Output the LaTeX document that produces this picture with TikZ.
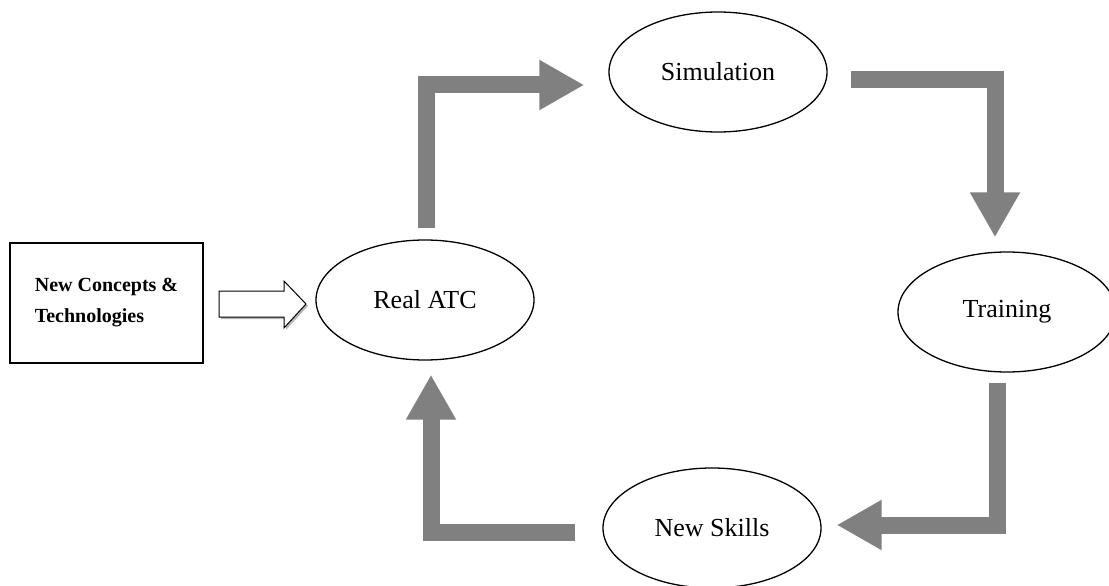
\documentclass[tikz,border=0pt]{standalone}
\usepackage{fontspec}
\setmainfont{Liberation Serif}
\usetikzlibrary{arrows.meta,shapes.geometric,calc}
\definecolor{flowgray}{HTML}{808080}
\begin{document}
\begin{tikzpicture}[x=1pt,y=-1pt,
  stage/.style={ellipse,draw=black,line width=1.3pt,fill=white,
    minimum width=218pt,minimum height=120pt,inner sep=0pt,
    font=\fontsize{26}{30}\selectfont},
  flow/.style={draw=flowgray,line width=17pt,line join=miter,
    -{Triangle[length=45pt,width=47pt]}},
  source/.style={draw=black,line width=2pt,minimum width=193pt,
    minimum height=120pt,align=left,inner sep=0pt,
    font=\fontsize{20}{31}\selectfont\bfseries},
  hollow/.style={draw=black,line width=1pt,fill=white,line join=miter}]
\useasboundingbox (0,0) rectangle (1109,586);

% the four stages of the cycle and the external input
\node[source] (nct) at (106.5,303) {New Concepts \&\\Technologies};
\node[stage] (atc) at (425,300) {Real ATC};
\node[stage] (sim) at (718,72) {Simulation};
\node[stage] (train) at (1007,312) {Training};
\node[stage] (skills) at (712,528) {New Skills};

% block arrows around the cycle
\draw[flow] ([xshift=1pt,yshift=11pt]atc.north) |- ([xshift=-24pt,yshift=-13pt]sim.west);
\draw[flow] ([xshift=23pt,yshift=-8pt]sim.east) -| ([xshift=-12pt,yshift=14pt]train.north);
\draw[flow] ([xshift=-10pt,yshift=-10pt]train.south) |- ([xshift=15pt,yshift=3pt]skills.east);
\draw[flow] ([xshift=-27pt,yshift=-4pt]skills.west) -| ([xshift=6pt,yshift=-14pt]atc.south);

% hollow input arrow into the cycle
\coordinate (ha) at ([xshift=15pt]nct.east);
\fill[gray!55] ($(ha)+(2,2)$) ++(0,-12) -- ++(65,0) -- ++(0,-10) -- ++(22,23)
  -- ++(-22,24) -- ++(0,-11) -- ++(-65,0) -- cycle;
\draw[hollow] (ha) ++(0,-12) -- ++(65,0) -- ++(0,-10) -- ++(22,23)
  -- ++(-22,24) -- ++(0,-11) -- ++(-65,0) -- cycle;
\end{tikzpicture}
\end{document}
